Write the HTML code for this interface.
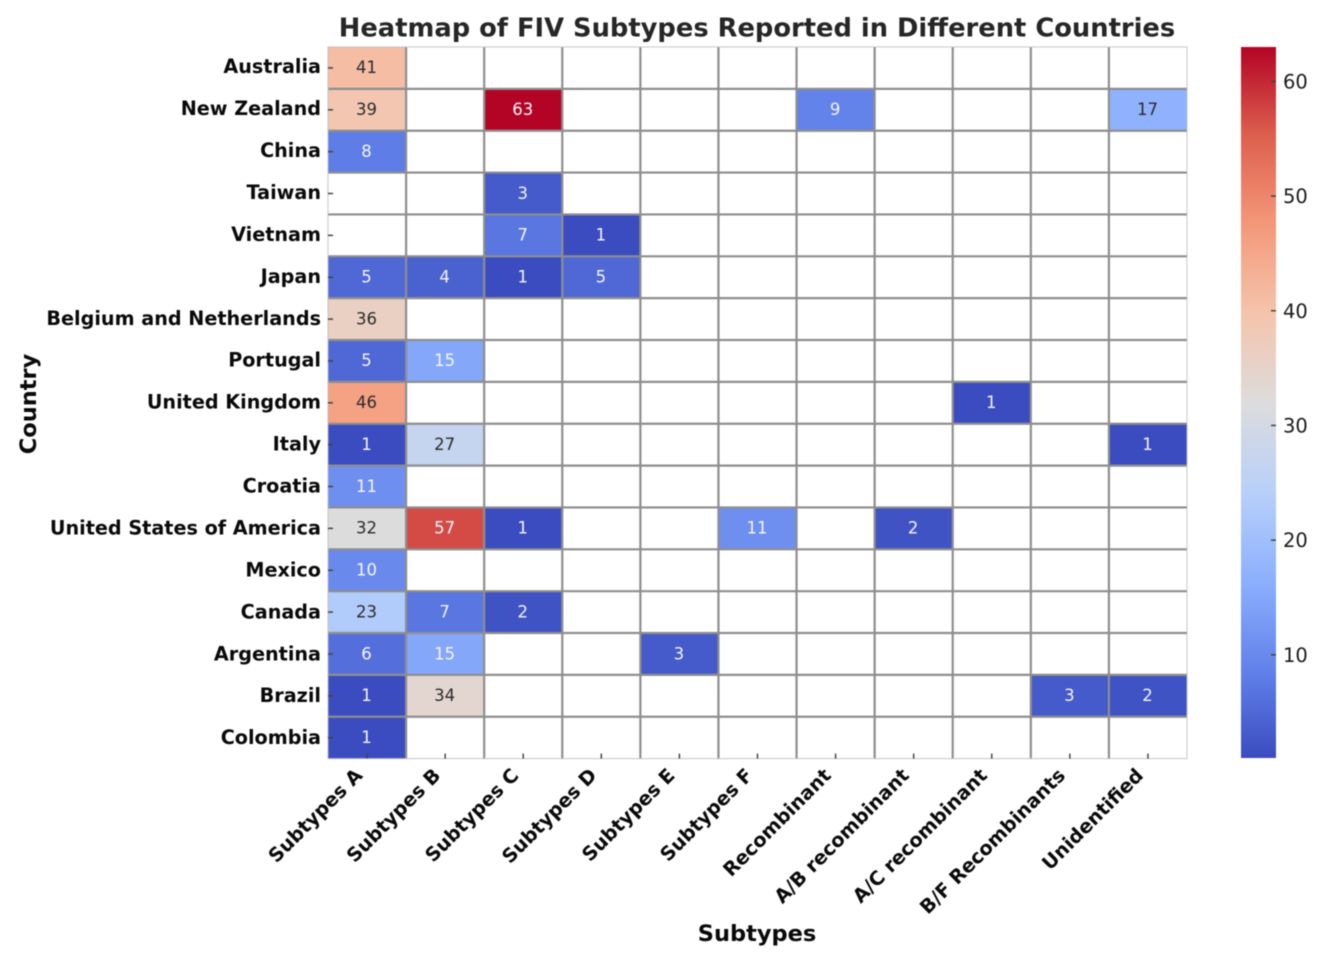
<!DOCTYPE html>
<html lang="en">
<head>
<meta charset="utf-8">
<title>Heatmap of FIV Subtypes Reported in Different Countries</title>
<style>
html,body{margin:0;padding:0;background:#fff;width:1325px;height:964px;overflow:hidden}
svg{display:block;filter:blur(0.45px)}
text{font-family:"DejaVu Sans","Liberation Sans",sans-serif}
</style>
</head>
<body>
<svg id="chart" width="1325" height="964" viewBox="0 0 1325 964" xmlns="http://www.w3.org/2000/svg">
<defs><linearGradient id="cbar-gradient" x1="0" y1="1" x2="0" y2="0"></linearGradient></defs>
<text x="757" y="36.5" text-anchor="middle" font-size="25.75" font-weight="700" fill="#262626">Heatmap of FIV Subtypes Reported in Different Countries</text>
<text x="757" y="941" text-anchor="middle" font-size="22.5" font-weight="700" fill="#0a0a0a">Subtypes</text>
<text transform="translate(36 404) rotate(-90)" text-anchor="middle" font-size="22.5" font-weight="700" fill="#0a0a0a">Country</text>
<g id="cells"></g>
<g id="grid"></g>
<g id="annotations"></g>
<g id="y-axis"></g>
<g id="x-axis"></g>
<g id="colorbar"></g>
</svg>
<script>
const countries = ["Australia","New Zealand","China","Taiwan","Vietnam","Japan","Belgium and Netherlands","Portugal","United Kingdom","Italy","Croatia","United States of America","Mexico","Canada","Argentina","Brazil","Colombia"];
const subtypes = ["Subtypes A","Subtypes B","Subtypes C","Subtypes D","Subtypes E","Subtypes F","Recombinant","A/B recombinant","A/C recombinant","B/F Recombinants","Unidentified"];
const counts = [
  [41,null,null,null,null,null,null,null,null,null,null],
  [39,null,63,null,null,null,9,null,null,null,17],
  [8,null,null,null,null,null,null,null,null,null,null],
  [null,null,3,null,null,null,null,null,null,null,null],
  [null,null,7,1,null,null,null,null,null,null,null],
  [5,4,1,5,null,null,null,null,null,null,null],
  [36,null,null,null,null,null,null,null,null,null,null],
  [5,15,null,null,null,null,null,null,null,null,null],
  [46,null,null,null,null,null,null,null,1,null,null],
  [1,27,null,null,null,null,null,null,null,null,1],
  [11,null,null,null,null,null,null,null,null,null,null],
  [32,57,1,null,null,11,null,2,null,null,null],
  [10,null,null,null,null,null,null,null,null,null,null],
  [23,7,2,null,null,null,null,null,null,null,null],
  [6,15,null,null,3,null,null,null,null,null,null],
  [1,34,null,null,null,null,null,null,null,3,2],
  [1,null,null,null,null,null,null,null,null,null,null]
];
const colorbarTicks = [10,20,30,40,50,60];
const coolwarmColors = ["#3b4cc0","#6282ea","#8db0fe","#b8d0f9","#dddcdc","#f5c4ac","#f4987a","#dd604e","#b40426"];

const NS = "http://www.w3.org/2000/svg";
const plot = {left:328,right:1187,top:47,bottom:758.6};
const bar = {left:1241,right:1276,top:47,bottom:758};
const allValues = counts.flat().filter(v => v !== null);
const vMin = Math.min(...allValues);
const vMax = Math.max(...allValues);
const colW = (plot.right - plot.left) / subtypes.length;
const rowH = (plot.bottom - plot.top) / countries.length;
const xScale = i => plot.left + i * colW;
const yScale = i => plot.top + i * rowH;
const barScale = v => bar.bottom - (v - vMin) / (vMax - vMin) * (bar.bottom - bar.top);

function rgbOf(hex){ return [1,3,5].map(i => parseInt(hex.slice(i,i+2),16)); }
function colorFor(v){
  const t = (v - vMin) / (vMax - vMin) * (coolwarmColors.length - 1);
  const i = Math.min(Math.floor(t), coolwarmColors.length - 2);
  const a = rgbOf(coolwarmColors[i]), b = rgbOf(coolwarmColors[i+1]), f = t - i;
  return "rgb(" + a.map((c,k) => Math.round(c + (b[k]-c)*f)).join(",") + ")";
}
function textColorFor(v){
  const [r,g,b] = colorFor(v).match(/\d+/g).map(Number);
  return (0.299*r + 0.587*g + 0.114*b) > 170 ? "#2b2b2b" : "#f4f6ff";
}
function make(tag, attrs, parent, content){
  const el = document.createElementNS(NS, tag);
  for (const k in attrs) el.setAttribute(k, attrs[k]);
  if (content !== undefined) el.textContent = content;
  parent.appendChild(el);
  return el;
}

const cellsG = document.getElementById("cells");
const gridG = document.getElementById("grid");
const annG = document.getElementById("annotations");
const yG = document.getElementById("y-axis");
const xG = document.getElementById("x-axis");
const cbG = document.getElementById("colorbar");

counts.forEach((row, r) => {
  row.forEach((v, c) => {
    if (v === null) return;
    const cell = make("rect", {x:xScale(c), y:yScale(r), width:colW, height:rowH, fill:colorFor(v)}, cellsG);
    
    
    const label = make("text", {x:xScale(c)+colW/2-0.5, y:yScale(r)+rowH/2+5.3, "text-anchor":"middle", "font-size":"16.5", fill:textColorFor(v)}, annG, String(v));
    
    
  });
});

for (let c = 1; c < subtypes.length; c++) {
  const line = make("line", {x1:xScale(c), x2:xScale(c), y1:plot.top, y2:plot.bottom, stroke:"#8e8e8e", "stroke-width":"2.2"}, gridG);
  
  
}
for (let r = 1; r < countries.length; r++) {
  const line = make("line", {x1:plot.left, x2:plot.right, y1:yScale(r), y2:yScale(r), stroke:"#8e8e8e", "stroke-width":"2.2"}, gridG);
  
  
}
const frame = make("rect", {x:plot.left, y:plot.top, width:plot.right-plot.left, height:plot.bottom-plot.top, fill:"none", stroke:"#bdbdbd", "stroke-width":"1.2", "stroke-opacity":"0.75"}, gridG);



countries.forEach((name, r) => {
  const y = yScale(r) + rowH/2;
  const tick = make("line", {x1:plot.left, x2:plot.left+5, y1:y, y2:y, stroke:"#444", "stroke-width":"1.5"}, yG);
  
  
  const label = make("text", {x:321, y:y+5.2+r*0.08, "text-anchor":"end", "font-size":"19.2", "font-weight":"700", fill:"#0a0a0a"}, yG, name);
  
  
});

subtypes.forEach((name, c) => {
  const x = xScale(c) + colW/2;
  const tick = make("line", {x1:x, x2:x, y1:plot.bottom-5, y2:plot.bottom, stroke:"#444", "stroke-width":"1.5"}, xG);
  
  
  const label = make("text", {transform:"translate("+(x-3.5)+" "+(plot.bottom+18)+") rotate(-45)", "text-anchor":"end", "font-size":"19.3", "font-weight":"700", fill:"#0a0a0a"}, xG, name);
  
  
});

const grad = document.getElementById("cbar-gradient");
coolwarmColors.forEach((col, i) => {
  make("stop", {offset:(i/(coolwarmColors.length-1)*100)+"%", "stop-color":col}, grad);
});
const cbRect = make("rect", {x:bar.left, y:bar.top, width:bar.right-bar.left, height:bar.bottom-bar.top, fill:"url(#cbar-gradient)"}, cbG);


colorbarTicks.forEach(v => {
  const y = barScale(v);
  const tick = make("line", {x1:bar.right-5, x2:bar.right, y1:y, y2:y, stroke:"#444", "stroke-width":"1.5"}, cbG);
  
  
  const label = make("text", {x:1283, y:y+7, "font-size":"19.5", fill:"#1a1a1a"}, cbG, String(v));
  
  
});
</script>
</body>
</html>
